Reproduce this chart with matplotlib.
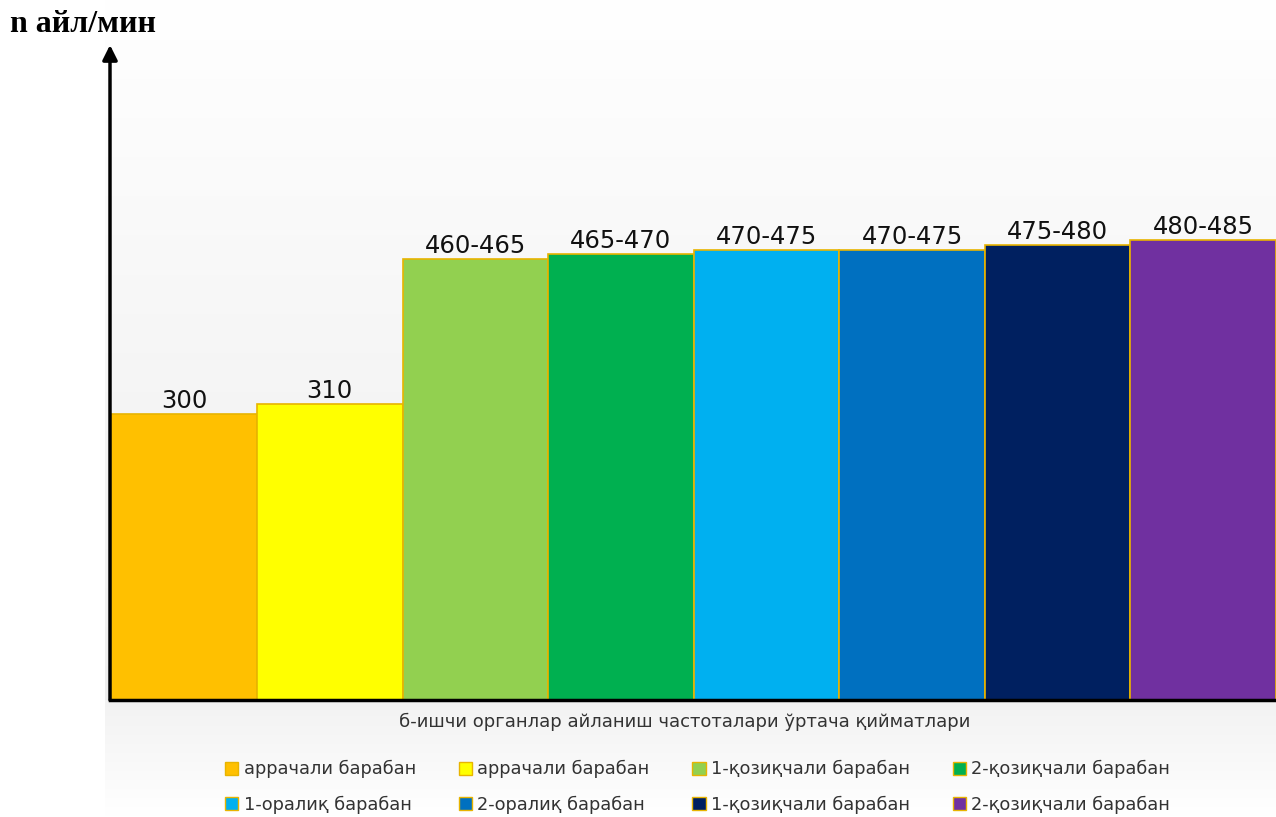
import numpy as np
import matplotlib.pyplot as plt
from matplotlib.patches import Patch

# data
labels = ['300', '310', '460-465', '465-470', '470-475', '470-475', '475-480', '480-485']
values = [300, 310, 462.5, 467.5, 472.5, 472.5, 477.5, 482.5]
names = ['аррачали барабан', 'аррачали барабан', '1-қозиқчали барабан', '2-қозиқчали барабан',
         '1-оралиқ барабан', '2-оралиқ барабан', '1-қозиқчали барабан', '2-қозиқчали барабан']
colors = ['#FFC000', '#FFFF00', '#92D050', '#00B050', '#00B0F0', '#0070C0', '#002060', '#7030A0']

W, H = 1276, 817
fig = plt.figure(figsize=(W / 100, H / 100), dpi=100)
fig.patch.set_facecolor('white')

# gradient backgrounds (plot area and band below it)
bg = fig.add_axes([105 / W, 0, 1 - 105 / W, 1], zorder=0)
bg.axis('off')
shade = np.concatenate([np.linspace(1.0, 0.93, 700), np.linspace(0.95, 1.0, 117)])
grad = np.repeat(shade[:, None, None], 3, axis=2).repeat(2, axis=1)
bg.imshow(grad, aspect='auto', interpolation='bilinear', extent=[0, 1, 0, 1], origin='upper')
bg.set_xlim(0, 1)
bg.set_ylim(0, 1)

ax = fig.add_axes([110 / W, 117 / H, 1 - 110 / W, 655 / H], zorder=1)
ax.patch.set_alpha(0)
x = np.arange(len(values))
bars = ax.bar(x, values, width=1.0, color=colors, edgecolor='#E8B400', linewidth=1.2, zorder=2)
for i, (v, t) in enumerate(zip(values, labels)):
    ax.text(i, v + 1, t, ha='center', va='bottom', fontsize=17.5, color='#111111', zorder=3)

ax.set_xlim(-0.51, 7.5)
ax.set_ylim(0, 687)
for s in ['top', 'right', 'left', 'bottom']:
    ax.spines[s].set_visible(False)
ax.set_xticks([])
ax.set_yticks([])
ax.plot([0, 1], [0, 0], transform=ax.transAxes, color='black', lw=2.5, clip_on=False, zorder=4)
ax.annotate('', xy=(0, 1.0), xytext=(0, 0), xycoords='axes fraction',
            arrowprops=dict(arrowstyle='-|>', lw=2.5, color='black', mutation_scale=22,
                            shrinkA=0, shrinkB=0), zorder=4)

fig.text(10 / W, 1 - 25 / H, 'n айл/мин', family='Liberation Serif', fontweight='bold',
         fontsize=23, ha='left', va='center')
fig.text(685 / W, 1 - 722 / H, 'б-ишчи органлар айланиш частоталари ўртача қийматлари',
         fontsize=13, color='#333333', ha='center', va='center')

handles = [Patch(facecolor=c, edgecolor='#E8B400', linewidth=1) for c in colors]
order = [0, 4, 1, 5, 2, 6, 3, 7]
fig.legend([handles[i] for i in order], [names[i] for i in order], ncol=4,
           loc='upper left', bbox_to_anchor=(218 / W, 1 - 753 / H), frameon=False,
           fontsize=12.8, handlelength=0.75, handleheight=0.75, handletextpad=0.3,
           columnspacing=2.4, labelspacing=0.95, labelcolor='#333333',
           borderaxespad=0, borderpad=0.4)

fig.savefig('out.png', dpi=100)
